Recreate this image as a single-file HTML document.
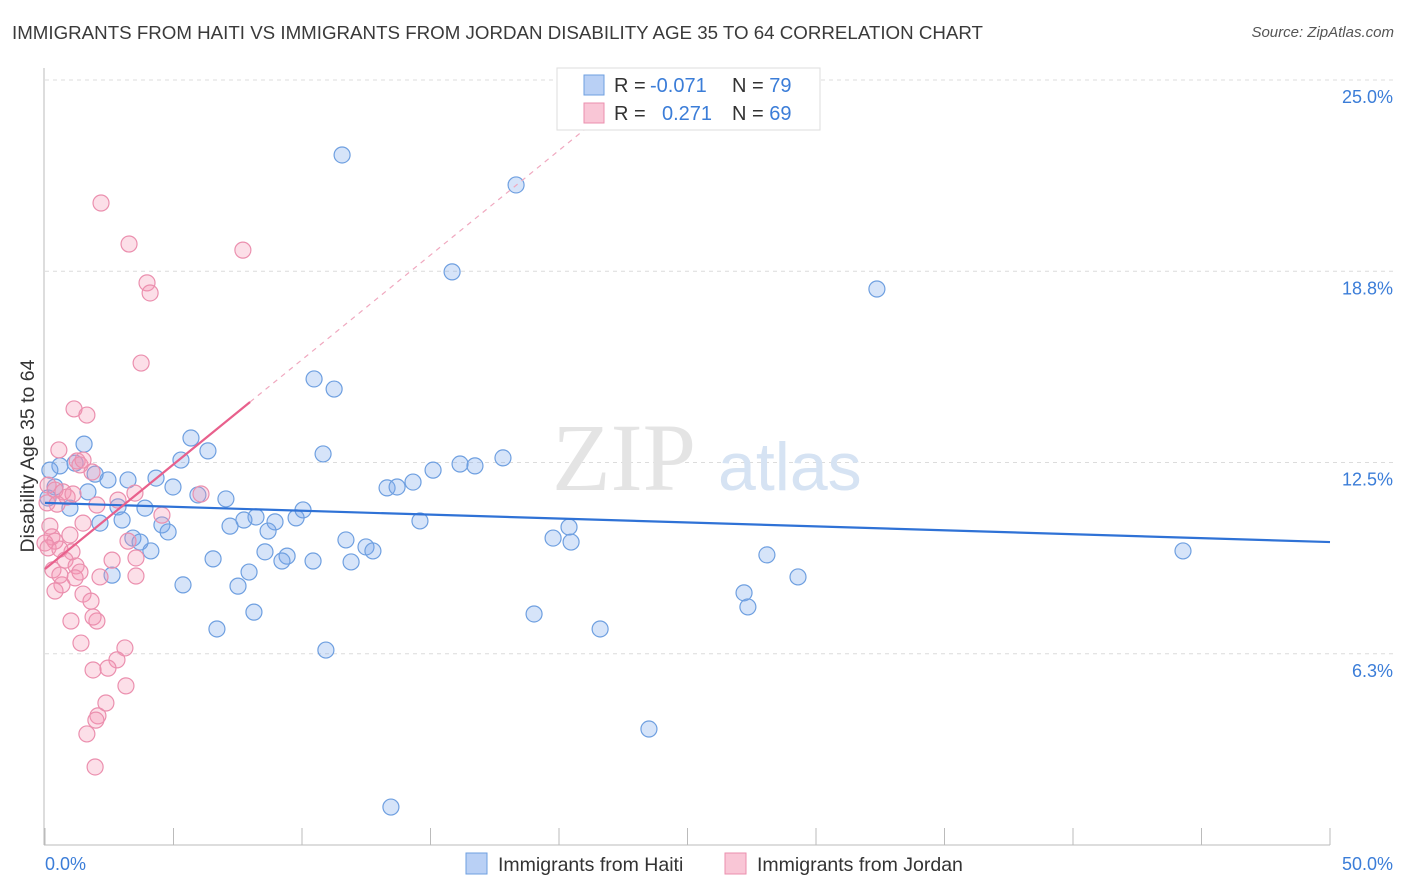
<!DOCTYPE html>
<html><head><meta charset="utf-8">
<style>
body{margin:0;background:#fff;font-family:"Liberation Sans",sans-serif;}
#wrap{position:relative;width:1406px;height:892px;overflow:hidden;}
.source{position:absolute;right:12px;top:24px;font-size:15px;color:#555;font-style:italic;}
</style></head><body>
<div id="wrap">
<div class="source">Source: ZipAtlas.com</div>
<svg id="svg" width="1406" height="892" style="position:absolute;left:0;top:0">
<text x="12" y="39" font-size="18.5" fill="#3a3a3a" textLength="971" lengthAdjust="spacingAndGlyphs">IMMIGRANTS FROM HAITI VS IMMIGRANTS FROM JORDAN DISABILITY AGE 35 TO 64 CORRELATION CHART</text>
</svg>
</div>
<script>
const haitiX=[11.56,18.33,15.84,32.37,10.47,11.25,5.68,1.52,6.34,5.29,10.82,17.82,16.15,16.73,15.10,0.58,1.17,1.95,2.45,3.23,4.32,4.98,5.95,7.04,13.31,13.70,14.32,0.39,1.67,0.97,2.84,3.89,8.21,7.74,8.95,9.77,10.04,8.68,7.20,3.00,2.14,4.55,4.79,14.59,20.39,19.77,20.47,11.71,12.49,12.76,4.12,8.56,9.42,9.22,10.43,11.91,6.54,7.94,28.09,29.30,44.28,2.61,5.37,7.51,27.20,27.35,19.03,8.13,6.69,21.60,10.93,23.50,13.46,3.42,3.70,0.12,0.19];
const haitiY=[22.55,21.57,18.73,18.17,15.23,14.90,13.30,13.10,12.88,12.58,12.78,12.65,12.45,12.39,12.25,12.39,12.48,12.12,11.93,11.93,11.99,11.70,11.44,11.31,11.67,11.70,11.86,11.70,11.54,11.01,11.05,11.01,10.72,10.62,10.56,10.69,10.95,10.26,10.42,10.62,10.52,10.46,10.23,10.59,10.39,10.03,9.90,9.97,9.74,9.61,9.61,9.58,9.44,9.28,9.28,9.25,9.35,8.92,9.48,8.76,9.61,8.82,8.50,8.46,8.24,7.78,7.55,7.61,7.06,7.06,6.37,3.79,1.24,10.03,9.90,11.34,12.25];
const jordanX=[2.18,3.27,7.70,3.97,4.09,3.74,1.13,1.63,0.54,1.25,1.36,1.83,1.48,0.12,0.39,0.70,0.86,1.09,0.08,0.47,2.02,2.84,3.50,4.55,1.48,0.19,0.27,0.39,0.00,0.12,0.97,3.23,0.58,1.05,0.78,2.61,3.54,1.21,1.36,0.31,1.17,3.54,0.66,0.39,1.48,1.79,1.01,2.02,1.87,1.40,3.11,2.80,1.87,2.45,3.15,2.37,2.06,1.98,1.63,1.95,0.58,2.14,6.07];
const jordanY=[20.98,19.64,19.44,18.37,18.04,15.75,14.25,14.05,12.91,12.55,12.42,12.19,12.58,11.76,11.60,11.54,11.37,11.47,11.18,11.14,11.11,11.27,11.50,10.78,10.52,10.42,10.07,9.93,9.87,9.71,10.13,9.93,9.67,9.58,9.31,9.31,9.38,9.12,8.92,8.99,8.73,8.79,8.50,8.30,8.20,7.97,7.32,7.32,7.45,6.60,6.44,6.05,5.72,5.78,5.20,4.64,4.22,4.08,3.63,2.55,8.82,8.76,11.47];
const yTicks=[25.0,18.8,12.5,6.3];
const yTickVals=[25,18.75,12.5,6.25];
const xTicks=[0,5,10,15,20,25,30,35,40,45,50];
const haitiTrend=[11.18,9.9];
const jordanTrend=[9.02,0.684];

const NS="http://www.w3.org/2000/svg";
const svg=document.getElementById('svg');
const X=v=>45+v*25.7;
const Y=v=>845-v*30.6;
function mk(t,a,p){const e=document.createElementNS(NS,t);for(const k in a)e.setAttribute(k,a[k]);(p||svg).appendChild(e);return e;}

yTickVals.forEach((v,i)=>{
 const g=mk('line',{x1:45,x2:1395,y1:Y(v),y2:Y(v),stroke:'#dcdcdc','stroke-dasharray':'4,4'});
 
 
 const t=mk('text',{x:1393,y:Y(v)+23,'text-anchor':'end','font-size':18,fill:'#3b7dd8'});
 t.textContent=yTicks[i].toFixed(1)+'%';
 
 
});
const ax=mk('line',{x1:44,x2:1330,y1:845,y2:845,stroke:'#bbb'});


const ay=mk('line',{x1:44,x2:44,y1:68,y2:845,stroke:'#bbb'});


xTicks.forEach(v=>{
 const l=mk('line',{x1:X(v),x2:X(v),y1:828,y2:845,stroke:'#bbb'});
 
 
});
[[0,'0.0%',45,'start'],[50,'50.0%',1393,'end']].forEach(a=>{
 const t=mk('text',{x:a[2],y:870,'text-anchor':a[3],'font-size':18,fill:'#3b7dd8'});
 t.textContent=a[1];
 
 
});
const yt=mk('text',{x:0,y:0,transform:'translate(34,456) rotate(-90)','text-anchor':'middle','font-size':19.5,fill:'#333'});
yt.textContent='Disability Age 35 to 64';



const wm=mk('text',{x:552,y:490,'font-size':96,fill:'#e4e4e4','font-family':'Liberation Serif,serif'});
wm.textContent='ZIP';


const wm2=mk('text',{x:718,y:490,'font-size':68,fill:'#d6e3f3'});
wm2.textContent='atlas';



haitiX.forEach((x,i)=>{
 const c=mk('circle',{cx:X(x),cy:Y(haitiY[i]),r:8,fill:'rgba(120,165,235,0.3)',stroke:'#6e9fe0','stroke-width':1.2});
 
 
});
jordanX.forEach((x,i)=>{
 const c=mk('circle',{cx:X(x),cy:Y(jordanY[i]),r:8,fill:'rgba(245,150,180,0.3)',stroke:'#eb8fae','stroke-width':1.2});
 
 
});
const ht=mk('line',{x1:X(0),y1:Y(haitiTrend[0]),x2:X(50),y2:Y(haitiTrend[1]),stroke:'#2f72d6','stroke-width':2.2});


const jd=mk('line',{x1:X(7.98),y1:Y(jordanTrend[0]+jordanTrend[1]*7.98),x2:X(21.7),y2:Y(jordanTrend[0]+jordanTrend[1]*21.7),stroke:'#f0a8bf','stroke-width':1.2,'stroke-dasharray':'5,5'});


const jt=mk('line',{x1:X(0),y1:Y(jordanTrend[0]),x2:X(7.98),y2:Y(jordanTrend[0]+jordanTrend[1]*7.98),stroke:'#e8608c','stroke-width':2.2});



const lg=mk('g',{});


mk('rect',{x:557,y:68,width:263,height:62,fill:'#fff',stroke:'#ddd'},lg);
[['#b9d0f5','#6e9fe0','-0.071','79',85,650],['#f9c6d6','#eb8fae','0.271','69',113,662]].forEach(r=>{
 mk('rect',{x:584,y:r[4]-10,width:20,height:20,fill:r[0],stroke:r[1]},lg);
 const t=mk('text',{x:614,y:r[4]+7,'font-size':20,fill:'#333'},lg);
 t.innerHTML='R = <tspan fill="#3b7dd8" x="'+r[5]+'">'+r[2]+'</tspan><tspan x="732" fill="#333">N = </tspan><tspan fill="#3b7dd8">'+r[3]+'</tspan>';
 
 
});
[['#b9d0f5','#6e9fe0','Immigrants from Haiti',466],['#f9c6d6','#eb8fae','Immigrants from Jordan',725]].forEach(r=>{
 const rc=mk('rect',{x:r[3],y:853,width:21,height:21,fill:r[0],stroke:r[1]});
 
 
 const t=mk('text',{x:r[3]+32,y:871,'font-size':19.5,fill:'#333'});
 t.textContent=r[2];
 
 
});
</script>
</body></html>
